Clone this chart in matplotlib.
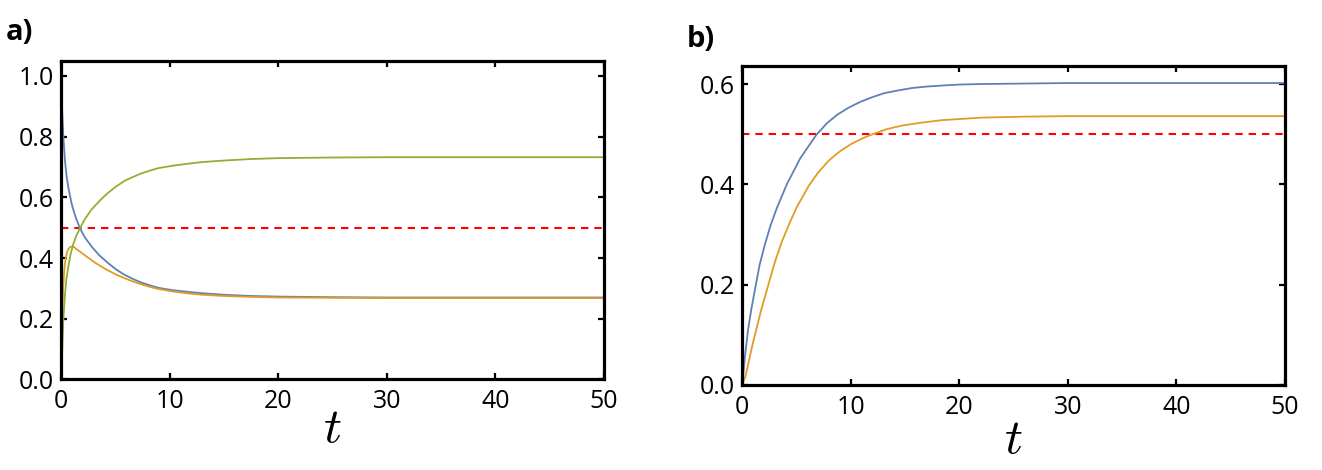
import matplotlib
matplotlib.use("Agg")
import matplotlib.pyplot as plt

# ---------------- data ----------------
# panel a
ta_blue = [0, 0.06, 0.12, 0.22, 0.37, 0.52, 0.67, 0.83, 0.98, 1.13, 1.4, 1.75, 2.2, 2.82, 3.5,
           4.35, 5.1, 5.89, 6.7, 7.42, 8.2, 8.96, 10.3, 11.57, 13, 15, 17.5, 20, 25, 30, 40, 50]
va_blue = [1.0, 0.93, 0.88, 0.80, 0.72, 0.67, 0.635, 0.605, 0.58, 0.56, 0.53, 0.498, 0.468, 0.438, 0.41,
           0.383, 0.362, 0.344, 0.330, 0.319, 0.31, 0.302, 0.294, 0.289, 0.284, 0.279, 0.275, 0.273, 0.271, 0.270, 0.270, 0.270]

ta_orange = [0, 0.06, 0.12, 0.21, 0.3, 0.37, 0.47, 0.58, 0.7, 0.83, 1.04, 1.25, 1.44, 1.8, 2.2, 2.7,
             3.13, 3.7, 4.35, 5.1, 5.89, 6.7, 7.42, 8.2, 8.96, 10.3, 11.57, 13, 15, 17.5, 20, 25, 30, 40, 50]
va_orange = [0, 0.13, 0.229, 0.306, 0.355, 0.383, 0.405, 0.421, 0.43, 0.436, 0.438, 0.435, 0.429, 0.42, 0.409, 0.396,
             0.385, 0.372, 0.359, 0.345, 0.333, 0.322, 0.313, 0.305, 0.298, 0.29, 0.284, 0.279, 0.275, 0.272, 0.270, 0.269, 0.268, 0.268, 0.268]

ta_green = [0, 0.03, 0.06, 0.12, 0.21, 0.3, 0.37, 0.5, 0.67, 0.9, 1.13, 1.4, 1.75, 2.2, 2.82, 3.74,
            4.35, 5.1, 5.89, 6.7, 7.42, 8.2, 8.96, 10.3, 11.57, 13, 15, 17.5, 20, 25, 30, 40, 50]
va_green = [0, 0.03, 0.06, 0.097, 0.19, 0.24, 0.28, 0.33, 0.37, 0.415, 0.445, 0.472, 0.498, 0.528, 0.56, 0.595,
            0.615, 0.636, 0.655, 0.668, 0.679, 0.688, 0.696, 0.704, 0.71, 0.716, 0.721, 0.726, 0.729, 0.731, 0.732, 0.732, 0.732]

# panel b
tb_blue = [0, 0.22, 0.53, 0.84, 1.24, 1.6, 2.08, 2.6, 3.17, 4.1, 5.34, 6.83, 7.8, 8.76, 9.8, 10.93, 12.0,
           13.1, 14.3, 15.6, 17.0, 18.4, 20, 22, 26, 30, 40, 50]
vb_blue = [0, 0.052, 0.11, 0.152, 0.199, 0.24, 0.28, 0.318, 0.352, 0.4, 0.452, 0.499, 0.522, 0.539, 0.553, 0.565, 0.574,
           0.582, 0.587, 0.592, 0.595, 0.597, 0.599, 0.600, 0.601, 0.602, 0.602, 0.602]

tb_orange = [0, 0.31, 0.99, 1.77, 2.39, 3.0, 3.63, 4.3, 5.03, 6.12, 7.0, 8.0, 9.0, 10.0, 11.0, 12.0,
             13.3, 14.66, 16.5, 18.4, 22, 26, 30, 40, 50]
vb_orange = [0, 0.019, 0.085, 0.152, 0.199, 0.245, 0.285, 0.32, 0.355, 0.397, 0.424, 0.448, 0.466, 0.48, 0.491, 0.5,
             0.51, 0.517, 0.523, 0.528, 0.533, 0.535, 0.536, 0.536, 0.536]

threshold = 0.5
xticks = [0, 10, 20, 30, 40, 50]
yticks_a = [0.0, 0.2, 0.4, 0.6, 0.8, 1.0]
yticks_b = [0.0, 0.2, 0.4, 0.6]
panel_labels = ["a)", "b)"]
xlabel = "$t$"

# ---------------- style ----------------
BLUE = "#5E81B5"
ORANGE = "#E19C24"
GREEN = "#8FB032"
RED = "#FF0000"

plt.rcParams["font.family"] = ["Open Sans", "DejaVu Sans"]
plt.rcParams["mathtext.fontset"] = "cm"
plt.rcParams["lines.scale_dashes"] = False

fig = plt.figure(figsize=(13.22, 4.70), dpi=100)
ax_a = fig.add_axes([0.0461, 0.1926, 0.4107, 0.6777])
ax_b = fig.add_axes([0.5615, 0.1809, 0.4105, 0.6787])


def style(ax, yticks, ylim_top):
    ax.set_xlim(0, 50)
    ax.set_ylim(0, ylim_top)
    ax.set_xticks(xticks)
    ax.set_yticks(yticks)
    ax.set_xticklabels([str(x) for x in xticks])
    ax.set_yticklabels([f"{y:.1f}" for y in yticks])
    for s in ax.spines.values():
        s.set_linewidth(2.3)
        s.set_zorder(5)
    ax.tick_params(direction="in", length=4.5, width=1.6, top=True, right=True,
                   labelsize=18, colors="black")
    ax.tick_params(axis="x", pad=7)
    ax.tick_params(axis="y", pad=5)
    ax.axhline(threshold, color=RED, lw=1.5, dashes=(5.3, 4.3), zorder=3)


lw = 1.3
ax_a.plot(ta_blue, va_blue, color=BLUE, lw=lw, zorder=4, solid_joinstyle="round")
ax_a.plot(ta_orange, va_orange, color=ORANGE, lw=lw, zorder=4, solid_joinstyle="round")
ax_a.plot(ta_green, va_green, color=GREEN, lw=lw, zorder=4, solid_joinstyle="round")
style(ax_a, yticks_a, 1.049)

ax_b.plot(tb_blue, vb_blue, color=BLUE, lw=lw, zorder=4, solid_joinstyle="round")
ax_b.plot(tb_orange, vb_orange, color=ORANGE, lw=lw, zorder=4, solid_joinstyle="round")
style(ax_b, yticks_b, 0.636)

ax_a.text(0.5, -0.155, xlabel, transform=ax_a.transAxes, ha="center", va="center", fontsize=36)
ax_b.text(0.5, -0.172, xlabel, transform=ax_b.transAxes, ha="center", va="center", fontsize=36)

fig.text(6 / 1322, 1 - 40 / 470, panel_labels[0], fontsize=21, fontweight="bold", ha="left", va="baseline")
fig.text(687 / 1322, 1 - 47 / 470, panel_labels[1], fontsize=21, fontweight="bold", ha="left", va="baseline")

fig.savefig("out.png", dpi=100)
